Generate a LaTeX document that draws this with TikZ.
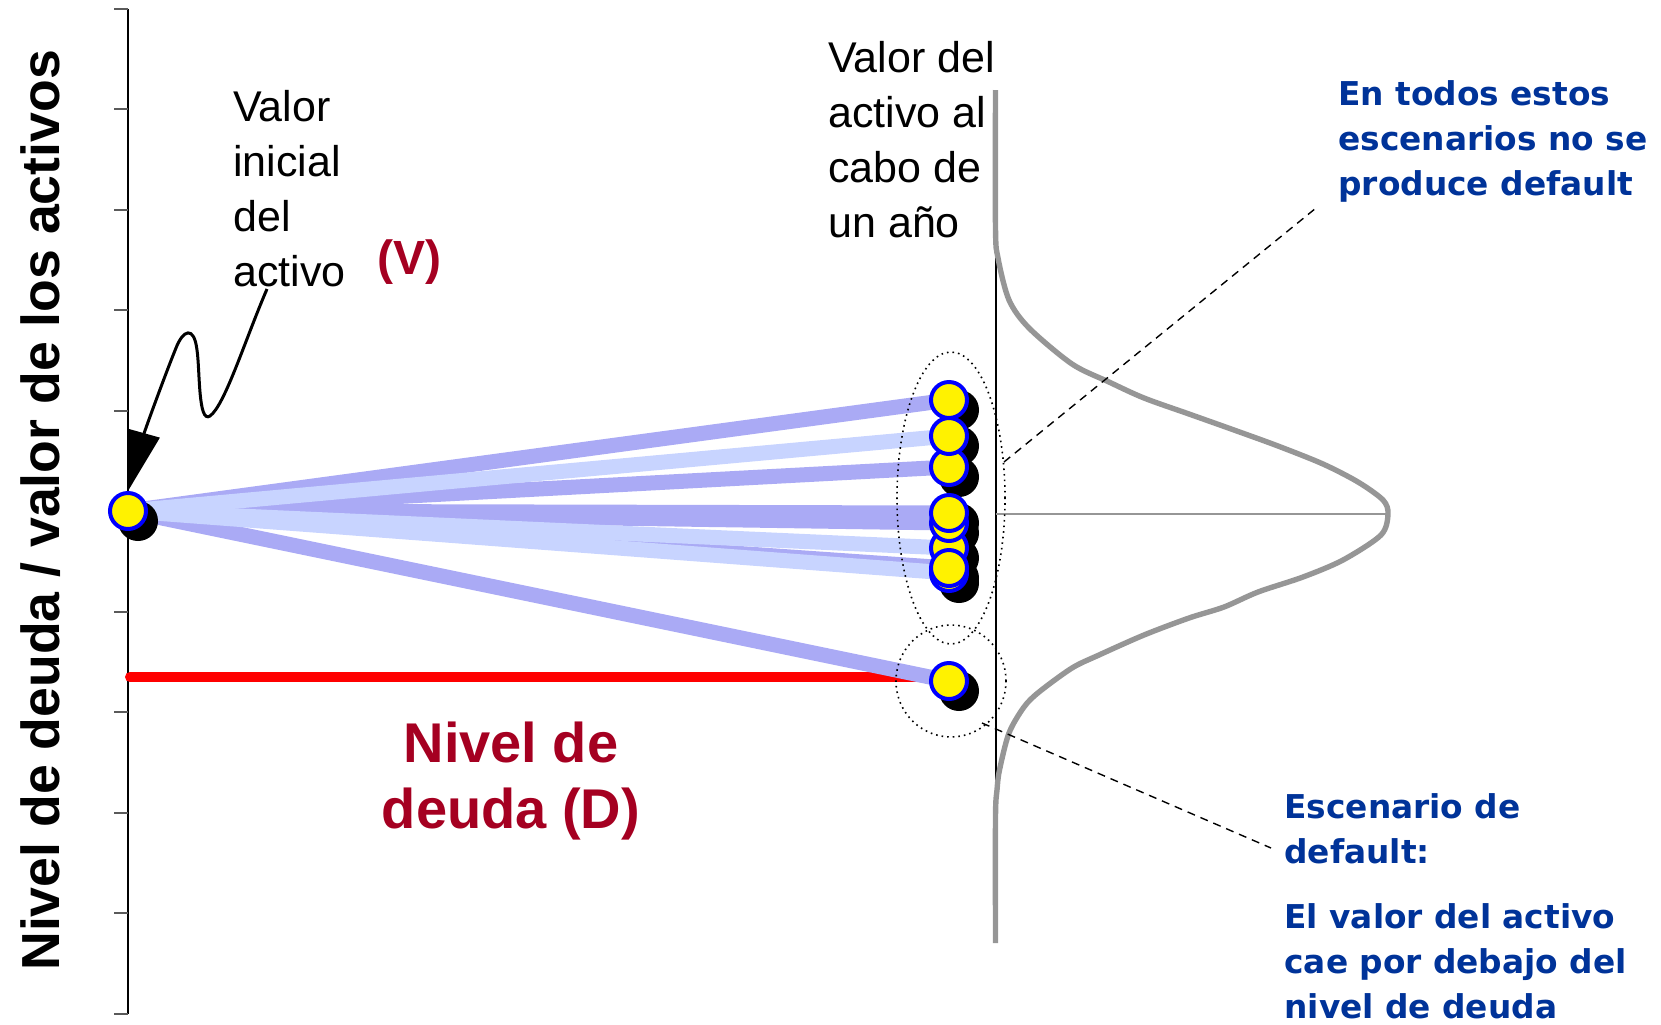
\documentclass[tikz,border=0pt]{standalone}
\usepackage{fontspec}
\setmainfont{Liberation Sans}
\newfontfamily\dejavu{DejaVu Sans}
\usetikzlibrary{arrows.meta,shapes.geometric}
\definecolor{darkred}{RGB}{165,0,33}
\definecolor{navy}{RGB}{0,51,153}
\definecolor{bandcolA}{RGB}{170,170,245}
\definecolor{bandcolB}{RGB}{200,212,255}
\definecolor{curvegray}{RGB}{150,150,150}
\definecolor{tickgray}{RGB}{90,90,90}
\begin{document}
\begin{tikzpicture}[x=0.5pt,y=-0.5pt,
  ball/.style={circle, draw=blue, line width=2pt, fill=yellow, minimum size=18pt, inner sep=0pt},
  shadowball/.style={circle, fill=black, minimum size=20pt, inner sep=0pt},
  bandA/.style={draw=bandcolA, line width=7.5pt},
  bandB/.style={draw=bandcolB, line width=7.5pt},
  blacktxt/.style={font=\fontsize{21.5}{27.5}\selectfont, align=left, inner sep=0pt, anchor=base west},
  bluetxt/.style={font=\dejavu\bfseries\fontsize{16.4}{22.5}\selectfont, text=navy, align=left, inner sep=0pt, anchor=base west},
  redtxt/.style={font=\bfseries\fontsize{28}{33}\selectfont, text=darkred, inner sep=0pt, align=center},
  leader/.style={line width=0.7pt, dash pattern=on 4pt off 3pt},
  grpell/.style={ellipse, draw, dotted, line width=0.8pt, inner sep=0pt}
]
\useasboundingbox (0,0) rectangle (1661,1024);

% axis
\draw[line width=1pt] (128,8.5) -- (128,1014);
\foreach \t in {0,...,10} \draw[tickgray, line width=1pt] (114,{8.5+\t*100.5}) -- (128,{8.5+\t*100.5});

% y label
\node[rotate=90, anchor=base west, inner sep=0pt, font=\bfseries\fontsize{26.8}{30}\selectfont] (ylab) at (60,971) {Nivel de deuda / valor de los activos};

% coordinates
\coordinate (p0) at (128,511);
\coordinate (q1) at (949,400);
\coordinate (q2) at (949,436);
\coordinate (q3) at (949,467);
\coordinate (q4) at (949,513);
\coordinate (q5) at (949,523);
\coordinate (q6) at (949,548);
\coordinate (q7) at (949,568);
\coordinate (q8) at (949,573);
\coordinate (qd) at (949,681);

% distribution
\draw[line width=0.8pt] (996,90) -- (996,943);
\draw[curvegray, line width=0.8pt] (996,514) -- (1388,514);
\draw[curvegray, line width=2.7pt, line join=round] plot[smooth, tension=0.5] coordinates {
(995.5,90) (995.5,228) (998,258) (1009,300) (1029,328) (1072,364) (1109,382) (1144,398) (1189,414) (1234,430) (1278,446) (1323,464) (1358,482) (1383,500) (1388,514) (1381,535) (1343,560) (1303,577) (1258,592) (1224,607) (1189,618) (1144,635) (1099,655) (1072,668) (1039,692) (1024,707) (1009,733) (999.5,770) (997,790) (995.5,817) (995.5,943)};

% debt line
\coordinate (d0) at (130,677);
\coordinate (d1) at (925,677);
\draw[red, line width=5pt, line cap=round] (d0) -- ([xshift=-20pt]d1);
\draw[red, line width=5pt] ([xshift=-22pt]d1) -- (d1);

% bands
\foreach \q in {q1,q3,q4,q5,q7,qd} \draw[bandA] (p0) -- (\q);
\foreach \q in {q2,q6,q8} \draw[bandB] (p0) -- (\q);

% shadows
\foreach \q/\n in {p0/s0,q1/s1,q2/s2,q3/s3,q4/s4,q5/s5,q6/s6,q7/s7,q8/s8,qd/sd}
  \node[shadowball] (\n) at ([xshift=5pt,yshift=-5pt]\q) {};

% balls
\node[ball] (c8) at (q8) {};
\node[ball] (c6) at (q6) {};
\node[ball] (c7) at (q7) {};
\node[ball] (c5) at (q5) {};
\node[ball] (c4) at (q4) {};
\node[ball] (c3) at (q3) {};
\node[ball] (c2) at (q2) {};
\node[ball] (c1) at (q1) {};
\node[ball] (cd) at (qd) {};
\node[ball] (v0) at (p0) {};

% group ellipses
\node[grpell, minimum width=54pt, minimum height=146pt] (grp) at (951,498) {};
\node[grpell, minimum width=55pt, minimum height=56pt] (dflt) at (951,681) {};

% texts (anchor = baseline of last line)
\node[blacktxt] (vini) at (233,286) {Valor\\inicial\\del\\activo};
\node[font=\bfseries\fontsize{24}{28}\selectfont, text=darkred, inner sep=0pt, anchor=base west] (vlab) at (377,274) {(V)};
\node[blacktxt] (vfin) at (828,237) {Valor del\\activo al\\cabo de\\un año};
\node[redtxt, anchor=base] (dlab) at (511,828) {Nivel de\\deuda (D)};
\node[bluetxt] (nodef) at (1338,195) {En todos estos\\escenarios no se\\produce default};
\node[bluetxt] (esc) at (1284,863) {Escenario de\\default:};
\node[bluetxt] (expl) at (1284,1018) {El valor del activo\\cae por debajo del\\nivel de deuda};

% arrow
\coordinate (as) at (267,289);
\draw[line width=1.5pt, -{Triangle[length=30pt,width=16pt]}] (as) .. controls (245,340) and (225,405) .. (210,416) .. controls (198,424) and (200,370) .. (197,350) .. controls (194,325) and (183,330) .. (176,348) .. controls (165,375) and (145,430) .. (v0.north);

% leaders
\coordinate (a1) at (1004,462);
\coordinate (b1) at (1316,208);
\coordinate (a2) at (982,723);
\coordinate (b2) at (1271,848);
\draw[leader] (a1) -- (b1);
\draw[leader] (a2) -- (b2);
\end{tikzpicture}
\end{document}
